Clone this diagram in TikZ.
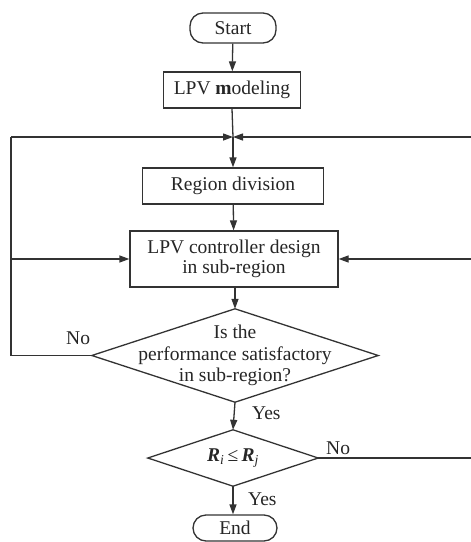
\documentclass[tikz,border=0pt]{standalone}
\usepackage{fontspec}
\setmainfont{Liberation Serif}
\usetikzlibrary{arrows.meta}
\begin{document}
\begin{tikzpicture}[x=1pt,y=-1pt,
  every node/.style={font=\fontsize{19.5}{21.5}\selectfont, text=black!85},
  ln/.style={draw=black!80, line width=1.3pt},
  arr/.style={ln, -{Triangle[length=10pt,width=7pt]}},
  term/.style={ln, rounded corners=13pt, minimum width=86pt, minimum height=27pt, inner sep=0pt},
  proc/.style={ln, rectangle, inner sep=0pt},
  dshape/.style={rectangle, inner sep=0pt, align=center},
  lbl/.style={inner sep=0pt}]
\useasboundingbox[fill=white] (0,0) rectangle (471,542);
% nodes
\node[term, minimum height=30pt] (start) at (233,28) {Start};
\node[proc, minimum width=137pt, minimum height=36pt] (lpv) at (232,90) {LPV \textbf{m}odeling};
\coordinate (J) at (233,137);
\node[proc, minimum width=181pt, minimum height=36pt] (rd) at (233,186) {Region division};
\node[proc, minimum width=208pt, minimum height=56pt, align=center] (ctrl) at (234,259) {LPV controller design\\[-1pt]in sub-region};
\node[dshape, minimum width=286pt, minimum height=93pt] (d1) at (235,355.5) {Is the\\performance satisfactory\\in sub-region?};
\node[dshape, minimum width=170pt, minimum height=56pt] (d2) at (233,458) {\textbf{\textit{R}}\textsubscript{\textit{i}}\,≤\,\textbf{\textit{R}}\textsubscript{\textit{j}}};
\node[term, minimum width=84pt, minimum height=26pt] (end) at (235,528) {End};
% diamond outlines
\draw[ln] (d1.north) -- (d1.east) -- (d1.south) -- (d1.west) -- cycle;
\draw[ln] (d2.north) -- (d2.east) -- (d2.south) -- (d2.west) -- cycle;
% side coordinates
\coordinate (LT) at (11,137);
\coordinate (LM) at (11,259);
\coordinate (LB) at (11,355.5);
\coordinate (RT) at (473,137);
\coordinate (RM) at (473,259);
\coordinate (RB) at (473,458);
% connectors
\draw[arr] (start) -- (lpv);
\draw[ln] (lpv.south) -- (J);
\draw[arr] (J) -- (rd.north);
\draw[arr] (rd) -- (ctrl);
\draw[arr] (ctrl.south -| d1.north) -- (d1.north);
\draw[arr] (d1.south) -- (d2.north);
\draw[arr] (d2.south) -- (end.north -| d2.south);
\draw[ln] (d1.west) -- (LB) -- (LT);
\draw[arr] (LT) -- (J);
\draw[arr] (LM) -- (ctrl.west);
\draw[ln] (d2.east) -- (RB) -- (RT);
\draw[arr] (RT) -- (J);
\draw[arr] (RM) -- (ctrl.east);
% labels
\node[lbl, anchor=west] (no1) at (66,338) {No};
\node[lbl, anchor=west] (yes1) at (252,413) {Yes};
\node[lbl, anchor=west] (no2) at (326,448) {No};
\node[lbl, anchor=west] (yes2) at (248,499) {Yes};
\end{tikzpicture}
\end{document}
